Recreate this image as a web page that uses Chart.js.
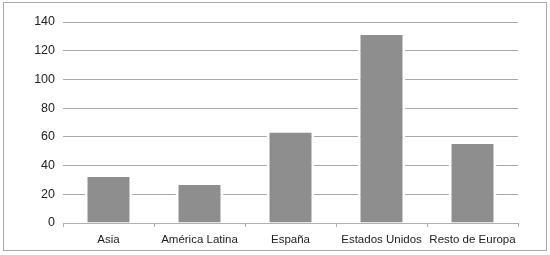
<!DOCTYPE html>
<html>
<head>
<meta charset="utf-8">
<script src="https://cdn.jsdelivr.net/npm/chart.js@4"></script>
<style>
  html, body { margin: 0; padding: 0; background: #fff; }
  #box { position: absolute; left: 3px; top: 2px; width: 542px; height: 247px; border: 1px solid #aaa; }
  #wrap { position: absolute; left: 0; top: 0; width: 550px; height: 255px; }
</style>
</head>
<body>
<div id="box"></div>
<div id="wrap"><canvas id="chart" width="550" height="255"></canvas></div>
<script>
const regiones = ['Asia', 'América Latina', 'España', 'Estados Unidos', 'Resto de Europa'];
const valores = [32, 26.5, 63, 131, 55];
const yTicks = [0, 20, 40, 60, 80, 100, 120, 140];

let ctx = document.getElementById('chart').getContext('2d');

new Chart(ctx, {
    type: 'bar',
    data: {
        labels: regiones,
        datasets: [{
            data: valores,
            backgroundColor: '#8f8e8e',
            borderColor: '#ffffff',
            borderWidth: {left: 3, right: 3, top: 0, bottom: 0},
            borderSkipped: false,
            barPercentage: 0.527,
            categoryPercentage: 1
        }]
    },
    options: {
        responsive: false,
        animation: false,
        layout: {padding: {left: 0, right: 32, top: 22, bottom: 0}},
        plugins: {legend: {display: false}, tooltip: {enabled: false}},
        scales: {
            x: {
                afterFit: s => { s.height = 32; },
                border: {color: '#b0b0b0'},
                grid: {drawOnChartArea: false, tickLength: 4, color: '#b0b0b0'},
                ticks: {color: '#222', padding: 6, maxRotation: 0, minRotation: 0, autoSkip: false,
                        font: {family: 'Liberation Sans', size: 11.5}}
            },
            y: {
                min: 0,
                max: 140,
                afterFit: s => { s.width = 63; },
                afterBuildTicks: s => { s.ticks = yTicks.map(v => ({value: v})); },
                border: {display: false},
                grid: {drawTicks: false, color: '#a8a8a8'},
                ticks: {color: '#222', padding: 8, font: {family: 'Liberation Sans', size: 12.5}}
            }
        }
    }
});
</script>
</body>
</html>
